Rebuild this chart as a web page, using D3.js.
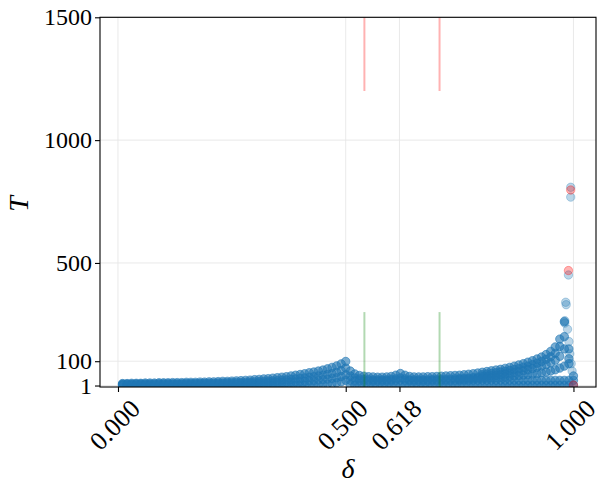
<!doctype html>
<html lang="en">
<head>
  <meta charset="utf-8">
  <title>T vs delta</title>
  <script src="https://d3js.org/d3.v7.min.js"></script>
  <style>
    body { margin:0; background:#fff; }
    text { font-family:"Liberation Serif","Times New Roman",serif; fill:#000; }
  </style>
</head>
<body>
<div id="chart"></div>
<script>
// delta grid (first point sits just right of 0)
var delta = [0.01,0.02,0.03,0.04,0.05,0.06,0.07,0.08,0.09,0.10,
             0.11,0.12,0.13,0.14,0.15,0.16,0.17,0.18,0.19,0.20,
             0.21,0.22,0.23,0.24,0.25,0.26,0.27,0.28,0.29,0.30,
             0.31,0.32,0.33,0.34,0.35,0.36,0.37,0.38,0.39,0.40,
             0.41,0.42,0.43,0.44,0.45,0.46,0.47,0.48,0.49,0.50,
             0.51,0.52,0.53,0.54,0.55,0.56,0.57,0.58,0.59,0.60,
             0.61,0.62,0.63,0.64,0.65,0.66,0.67,0.68,0.69,0.70,
             0.71,0.72,0.73,0.74,0.75,0.76,0.77,0.78,0.79,0.80,
             0.81,0.82,0.83,0.84,0.85,0.86,0.87,0.88,0.89,0.90,
             0.91,0.92,0.93,0.94,0.95,0.96,0.97,0.98,0.99,1.00];

// upper envelope
var tTop = [9,9,10,10,10,11,11,11,12,12, 12,13,13,13,14,14,14,15,15,16,
            16,17,18,18,19,20,21,22,23,25, 26,28,29,31,33,35,37,40,43,46,
            49,53,56,60,64,69,75,81,89,99, 60,48,42,39,37,36,35,35,36,38,
            43,50,43,38,36,36,36,37,37,38, 39,40,41,42,43,45,47,49,52,55,
            58,61,64,67,71,75,80,85,90,96, 102,109,117,127,140,158,190,261,null,null];

// just under the envelope
var tUpper = [null,null,null,null,null,null,null,null,null,null,
              null,null,null,null,null,null,null,null,null,null,
              null,null,null,null,null,null,null,null,null,null,
              null,null,null,null,null,null,null,null,null,null,
              null,null,null,null,null,null,null,null,null,null,
              null,null,null,null,null,null,null,null,null,null,
              null,null,null,null,null,null,null,null,null,null,
              null,null,null,null,null,null,null,null,null,45,
              48,50,53,56,59,62,66,70,75,80, 86,92,99,108,118,132,160,200,150,null];

// second curve (inner edge of the fan)
var tUpperMid = [6,6,6,7,7,7,7,7,8,8, 8,8,8,8,9,9,9,9,10,10,
                 10,11,11,12,12,13,13,14,15,16, 17,18,19,20,21,23,24,26,28,30,
                 32,35,37,40,43,46,50,55,62,72, 40,32,28,26,25,24,24,24,24,26,
                 28,32,28,24,24,24,24,24,25,25, 26,26,27,28,29,30,31,33,35,37,
                 38,40,42,45,48,51,54,57,61,65, 70,75,80,86,94,104,120,150,110,null];

// lower flat band
var tLowMid = [4,4,4,4,4,4,4,4,5,5, 5,5,5,5,5,5,6,6,6,6,
               6,6,7,7,7,7,8,8,9,9, 10,10,11,11,12,13,14,15,16,17,
               18,20,21,23,25,27,30,33,38,45, 22,20,20,19,19,19,19,19,19,20,
               21,22,21,20,19,19,19,19,20,20, 20,20,20,21,21,21,21,22,22,22,
               22,22,22,22,22,22,22,22,22,22, 22,22,22,22,22,22,22,22,22,22];

// points scattered inside the fan
var tFan = [null,null,null,null,null,null,null,null,null,null,
            null,null,null,null,null,null,null,null,null,null,
            null,null,null,null,null,null,null,null,null,null,
            null,null,null,null,null,null,null,null,null,null,
            null,null,null,null,null,null,null,null,null,null,
            null,null,null,null,null,null,null,null,null,null,
            null,null,null,null,null,null,null,null,null,null,
            null,null,null,null,25,26,27,28,29,30,
            31,32,33,35,36,38,40,42,44,46, 48,50,53,56,60,65,72,80,90,40];

// bottom of the band
var tBottom = [1,1,1,1,1,1,1,1,1,1, 1,1,1,1,1,1,1,1,1,1,
               1,1,1,1,1,1,1,1,1,1, 1,1,1,1,1,1,1,1,1,1,
               2,2,3,4,5,7,9,12,16,22, 5,1,1,1,1,1,1,1,1,1,
               1,1,1,1,1,1,1,1,1,1, 1,1,1,1,1,1,1,1,1,1,
               1,1,1,1,1,1,1,1,1,1, 1,1,1,1,1,1,1,1,1,2];

// the spike close to delta = 1
var tailDelta = [0.981,0.981,0.983,0.984,0.987,0.989,0.990,0.992,0.994,0.994,0.995,0.997];
var tailT     = [265,255,340,330,230,451,180,130,808,768,90,60];

// highlighted points
var redDelta = [0.989,0.994,1.000];
var redT     = [469,797,3];

// marker lines
var lineDelta = [0.541,0.706];
var redSpan   = [1200,1500];
var greenSpan = [-5,300];

var xTicks = [0,0.5,0.618,1];
var yTicks = [1,100,500,1000,1500];

var width = 612, height = 494;
var padL = 100, padR = 596, padT = 17.3, padB = 387;

var svg = d3.select("#chart").append("svg")
  .attr("width",width)
  .attr("height",height);

var x = d3.scaleLinear().domain([-0.0395,1.0495]).range([padL,padR]);
var y = d3.scaleLinear().domain([-5,1500]).range([padB,padT]);

svg.append("clipPath").attr("id","clip")
  .append("rect")
  .attr("x",padL).attr("y",padT)
  .attr("width",padR-padL).attr("height",padB-padT);

// grid
svg.append("g").selectAll("line")
  .data(xTicks).enter().append("line")
  .attr("x1",function(d){return x(d);}).attr("x2",function(d){return x(d);})
  .attr("y1",padT).attr("y2",padB)
  .attr("stroke","#e6e6e6").attr("stroke-width",0.9);
svg.append("g").selectAll("line")
  .data(yTicks).enter().append("line")
  .attr("y1",function(d){return y(d);}).attr("y2",function(d){return y(d);})
  .attr("x1",padL).attr("x2",padR)
  .attr("stroke","#e6e6e6").attr("stroke-width",0.9);

// scatter points (the band was very dense in the original, so a heavier alpha there)
var pts = [];
[tTop,tUpper,tUpperMid,tLowMid,tFan,tBottom].forEach(function(s){
  s.forEach(function(t,i){ if (t !== null) pts.push({d:delta[i],t:t,a:0.6}); });
});
tailDelta.forEach(function(d,i){ pts.push({d:d,t:tailT[i],a:0.3}); });

var plot = svg.append("g").attr("clip-path","url(#clip)");

plot.selectAll("circle.blue")
  .data(pts).enter().append("circle")
  .attr("class","blue")
  .attr("cx",function(d){return x(d.d);})
  .attr("cy",function(d){return y(d.t);})
  .attr("r",4.2)
  .attr("fill","#1f77b4").attr("fill-opacity",function(d){return d.a;})
  .attr("stroke","#1f77b4").attr("stroke-opacity",function(d){return d.a;}).attr("stroke-width",1);

plot.selectAll("circle.red")
  .data(redDelta).enter().append("circle")
  .attr("class","red")
  .attr("cx",function(d){return x(d);})
  .attr("cy",function(d,i){return y(redT[i]);})
  .attr("r",4.2)
  .attr("fill","red").attr("fill-opacity",0.3)
  .attr("stroke","red").attr("stroke-opacity",0.3).attr("stroke-width",1);

// vertical marker lines
plot.selectAll("line.red")
  .data(lineDelta).enter().append("line")
  .attr("x1",function(d){return x(d);}).attr("x2",function(d){return x(d);})
  .attr("y1",y(redSpan[0])).attr("y2",y(redSpan[1]))
  .attr("stroke","red").attr("stroke-opacity",0.3).attr("stroke-width",2);
plot.selectAll("line.green")
  .data(lineDelta).enter().append("line")
  .attr("x1",function(d){return x(d);}).attr("x2",function(d){return x(d);})
  .attr("y1",y(greenSpan[0])).attr("y2",y(greenSpan[1]))
  .attr("stroke","green").attr("stroke-opacity",0.3).attr("stroke-width",2);

// axes
svg.append("g")
  .attr("transform","translate(0,"+padB+")")
  .call(d3.axisBottom(x).tickValues(xTicks).tickSize(5).tickFormat(""));
svg.append("g")
  .attr("transform","translate("+padL+",0)")
  .call(d3.axisLeft(y).tickValues(yTicks).tickSize(5).tickFormat(""));
svg.selectAll(".domain").remove();
svg.selectAll(".tick line").attr("stroke","#000").attr("stroke-width",1.1);

svg.append("rect")
  .attr("x",padL).attr("y",padT)
  .attr("width",padR-padL).attr("height",padB-padT)
  .attr("fill","none").attr("stroke","#000").attr("stroke-width",1.1);

// tick labels
svg.append("g").selectAll("text")
  .data(xTicks).enter().append("text")
  .attr("transform",function(d){return "translate("+(x(d)-3)+",425) rotate(-45)";})
  .attr("text-anchor","middle")
  .attr("dominant-baseline","central")
  .style("font-size","26px")
  .text(function(d){return d3.format(".3f")(d);});

svg.append("g").selectAll("text")
  .data(yTicks).enter().append("text")
  .attr("x",padL-8)
  .attr("y",function(d){return y(d);})
  .attr("dy","0.34em")
  .attr("text-anchor","end")
  .style("font-size","24px")
  .text(function(d){return d;});

// axis titles
svg.append("text")
  .attr("x",348).attr("y",478)
  .attr("text-anchor","middle")
  .style("font-size","28px").style("font-style","italic")
  .text("δ");
svg.append("text")
  .attr("transform","translate(28,204) rotate(-90)")
  .attr("text-anchor","middle")
  .style("font-size","28px").style("font-style","italic")
  .text("T");
</script>
</body>
</html>
